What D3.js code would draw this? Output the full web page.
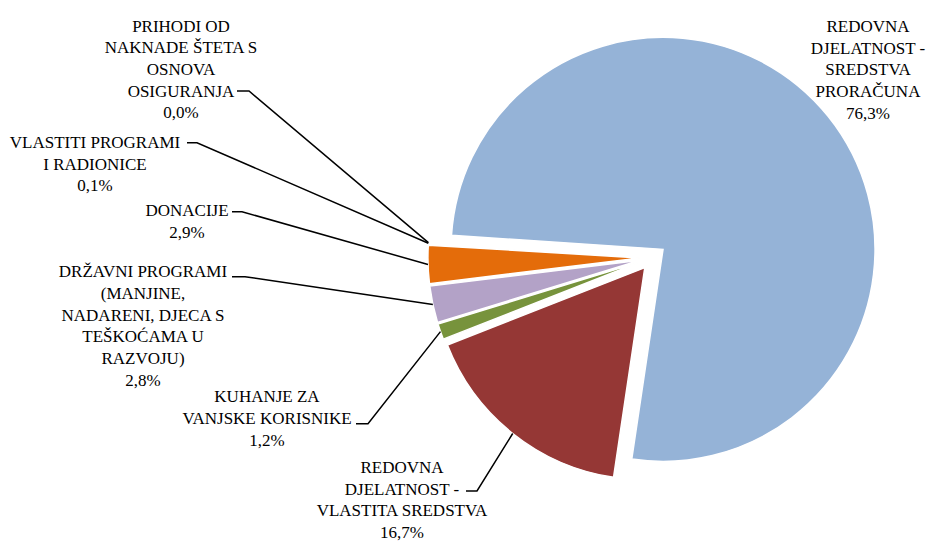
<!DOCTYPE html>
<html>
<head>
<meta charset="utf-8">
<script src="https://cdn.jsdelivr.net/npm/d3@7"></script>
<style>
  body { margin: 0; background: #fff; }
  svg text { font-family: "Liberation Serif", serif; font-size: 17px; fill: #000; }
</style>
</head>
<body>
<svg id="chart"></svg>
<script>
// slice names (as label lines) and shares in %
const labels = [
  ["REDOVNA", "DJELATNOST -", "SREDSTVA", "PRORAČUNA"],
  ["REDOVNA", "DJELATNOST -", "VLASTITA SREDSTVA"],
  ["KUHANJE ZA", "VANJSKE KORISNIKE"],
  ["DRŽAVNI PROGRAMI", "(MANJINE,", "NADARENI, DJECA S", "TEŠKOĆAMA U", "RAZVOJU)"],
  ["DONACIJE"],
  ["VLASTITI PROGRAMI", "I RADIONICE"],
  ["PRIHODI OD", "NAKNADE ŠTETA S", "OSNOVA", "OSIGURANJA"]
];
const values = [76.3, 16.7, 1.2, 2.8, 2.9, 0.1, 0.0];
const colors = ["#95B3D7", "#953735", "#77933C", "#B3A2C7", "#E46C0A", "#8EA9D6", "#C0504D"];

// where each label sits: centre x, first baseline, and the short horizontal stub of its leader
const labelPos = [
  { x: 868, y: 32 },
  { x: 402, y: 473, stub: [466, 491, 477, 491] },
  { x: 267, y: 402.3, stub: [356, 423.7, 368, 423.7] },
  { x: 143, y: 277.3, stub: [232, 276.7, 245, 276.7] },
  { x: 187, y: 216, stub: [232, 211.7, 242, 211.7] },
  { x: 95, y: 148, stub: [187, 142.7, 197, 142.7] },
  { x: 181, y: 31.5, stub: [237, 91, 249, 91] }
];

const width = 927, height = 542;
const cx = 652.9, cy = 257.5, r = 212, explode = 13;
const lineH = 21.7;
const fmt = v => v.toFixed(1).replace(".", ",") + "%";

const svg = d3.select("#chart")
  .attr("width", width)
  .attr("height", height);

const start = -86.2 * Math.PI / 180;
const pie = d3.pie().sort(null).value(d => d)
  .startAngle(start).endAngle(start + 2 * Math.PI);
const arcs = pie(values);

const arc = d3.arc().innerRadius(0).outerRadius(r);

// offset of an exploded slice along its middle angle
const shift = d => {
  const a = (d.startAngle + d.endAngle) / 2;
  return [explode * Math.sin(a), -explode * Math.cos(a)];
};

const slices = svg.append("g").attr("transform", `translate(${cx},${cy})`);
slices.selectAll("path")
  .data(arcs)
  .enter()
  .append("path")
  .attr("transform", d => `translate(${shift(d)})`)
  .attr("d", arc)
  .style("fill", (d, i) => colors[i])
  .style("stroke", "#fff")
  .style("stroke-width", 1.5);

// leader lines: stub, then straight to the slice's outer arc
arcs.forEach((d, i) => {
  const p = labelPos[i];
  if (!p.stub) return;
  const a = (d.startAngle + d.endAngle) / 2;
  const [dx, dy] = shift(d);
  const ex = cx + dx + r * Math.sin(a);
  const ey = cy + dy - r * Math.cos(a);
  svg.append("polyline")
    .attr("points", `${p.stub[0]},${p.stub[1]} ${p.stub[2]},${p.stub[3]} ${ex},${ey}`)
    .style("fill", "none")
    .style("stroke", "#000")
    .style("stroke-width", 1.5);
});

// data labels
const txt = svg.selectAll(".label")
  .data(arcs)
  .enter()
  .append("text")
  .attr("class", "label")
  .attr("text-anchor", "middle");

txt.each(function (d, i) {
  const p = labelPos[i];
  const lines = labels[i].concat([fmt(values[i])]);
  d3.select(this).selectAll("tspan")
    .data(lines)
    .enter()
    .append("tspan")
    .attr("x", p.x)
    .attr("y", (l, j) => p.y + j * lineH)
    .text(l => l);
});
</script>
</body>
</html>
